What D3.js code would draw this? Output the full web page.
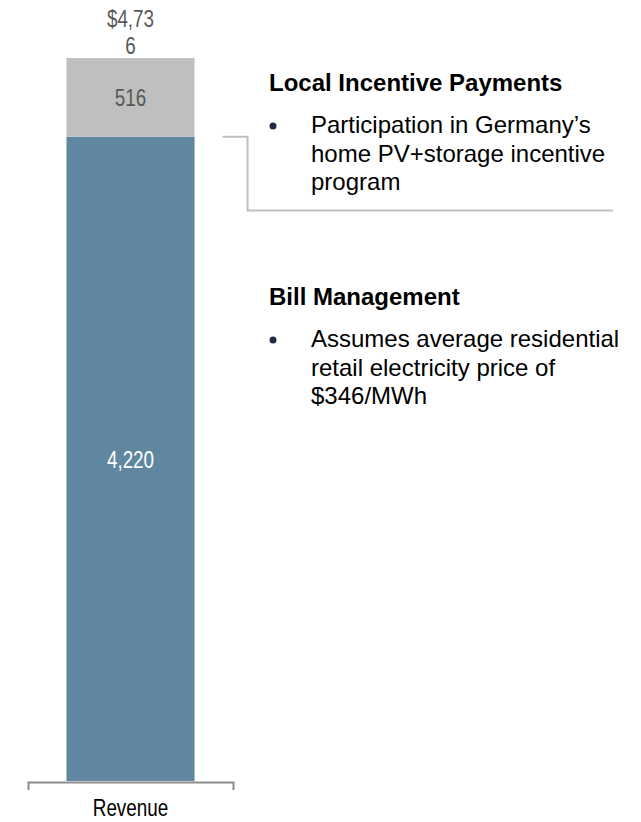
<!DOCTYPE html>
<html>

<head>
  <meta charset="utf-8">
  <title>Revenue stack</title>
  <script src="https://cdn.jsdelivr.net/npm/d3@7"></script>
</head>
<style>
  html,
  body {
    margin: 0;
    padding: 0;
    overflow: hidden;
    background: #fff;
  }

  svg {
    font-family: "Liberation Sans", Arial, sans-serif;
  }
</style>

<body>
  <div id="chart"></div>
</body>
<script>
  // data
  const categories = ['Revenue']
  const seriesNames = ['Bill Management', 'Local Incentive Payments']
  const seriesValues = [4220, 516]
  const totalLabel = ['$4,73', '6']   // wrapped like the original
  const notes = [
    { title: 'Local Incentive Payments', lines: ['Participation in Germany\u2019s', 'home PV+storage incentive', 'program'] },
    { title: 'Bill Management', lines: ['Assumes average residential', 'retail electricity price of', '$346/MWh'] }
  ]

  const width = 641
  const height = 822
  const colors = ['#5f87a0', '#bfbfbf']
  const labelColors = ['#ffffff', '#595959']
  const narrow = '"Liberation Sans Narrow", "Arial Narrow", sans-serif'

  const svg = d3.select('#chart')
    .append('svg')
    .attr('width', width)
    .attr('height', height)

  // is a narrow face installed? if not, squeeze the regular one
  const probe = svg.append('text').style('font-size', '100px').text('0123456789')
  const wideLen = probe.node().getComputedTextLength()
  probe.style('font-family', narrow)
  const narrowLen = probe.node().getComputedTextLength()
  probe.remove()
  const squeeze = narrowLen / wideLen > 0.9

  function narrowText(sel, size) {
    sel.style('font-size', size + 'px')
    if (!squeeze) {
      sel.style('font-family', narrow)
      return
    }
    sel.style('font-family', '"Liberation Sans", Arial, sans-serif')
      .each(function () {
        const t = d3.select(this)
        const cx = +t.attr('x') || 0
        t.attr('transform', `translate(${cx},0) scale(0.82,1) translate(${-cx},0)`)
      })
  }

  const total = d3.sum(seriesValues)

  const x = d3.scaleBand().domain(categories).range([28, 233]).paddingInner(0.231).paddingOuter(0.231)
  const y = d3.scaleLinear().domain([0, total]).range([781, 58])
  const mid = x(categories[0]) + x.bandwidth() / 2

  // stack the segments
  const stacked = d3.stack().keys(seriesNames)([
    Object.fromEntries(seriesNames.map((k, i) => [k, seriesValues[i]]))
  ])

  const seg = svg.append('g')
    .selectAll('g')
    .data(stacked)
    .enter().append('g')

  seg.append('rect')
    .attr('x', x(categories[0]))
    .attr('width', x.bandwidth())
    .attr('y', d => y(d[0][1]))
    .attr('height', d => y(d[0][0]) - y(d[0][1]))
    .attr('fill', (d, i) => colors[i])

  seg.append('text')
    .attr('x', mid)
    .attr('y', d => (y(d[0][0]) + y(d[0][1])) / 2)
    .attr('dy', '0.38em')
    .attr('text-anchor', 'middle')
    .attr('fill', (d, i) => labelColors[i])
    .text((d, i) => d3.format(',')(seriesValues[i]))
    .call(narrowText, 23)

  // total on top
  svg.append('text')
    .attr('x', mid)
    .attr('y', y(total) - 31)
    .attr('text-anchor', 'middle')
    .attr('fill', '#595959')
    .call(narrowText, 23)
    .selectAll('tspan')
    .data(totalLabel)
    .enter().append('tspan')
    .attr('x', mid)
    .attr('dy', (d, i) => i ? 27 : 0)
    .text(d => d)

  // bracket axis
  const axis = svg.append('g')
    .attr('transform', 'translate(0,' + (y(0) + 1) + ')')
    .call(d3.axisBottom(x).tickSizeInner(0).tickSizeOuter(8).tickPadding(18))
  axis.select('.domain').attr('stroke', '#8c8c8c').attr('stroke-width', 2)
  axis.selectAll('.tick text')
    .attr('fill', '#000')
    .call(narrowText, 23)

  // connector from the incentive segment to the note
  const cx0 = x(categories[0]) + x.bandwidth() + 28
  const cy0 = y(seriesValues[0])
  svg.append('path')
    .attr('d', `M${cx0},${cy0}H${cx0 + 25}V210.5H613`)
    .attr('fill', 'none')
    .attr('stroke', '#bfbfbf')
    .attr('stroke-width', 2)

  // notes
  const noteTop = [91, 305]
  const note = svg.append('g')
    .selectAll('g')
    .data(notes)
    .enter().append('g')
    .attr('transform', (d, i) => 'translate(269,' + noteTop[i] + ')')

  note.append('text')
    .style('font-size', '24px')
    .style('font-weight', 'bold')
    .attr('fill', '#000')
    .text(d => d.title)

  note.append('circle')
    .attr('cx', 4)
    .attr('cy', 35)
    .attr('r', 3.5)
    .attr('fill', '#1f2a44')

  note.append('text')
    .style('font-size', '24px')
    .attr('fill', '#000')
    .selectAll('tspan')
    .data(d => d.lines)
    .enter().append('tspan')
    .attr('x', 42)
    .attr('y', (d, i) => 42 + i * 28.5)
    .text(d => d)
</script>

</html>
